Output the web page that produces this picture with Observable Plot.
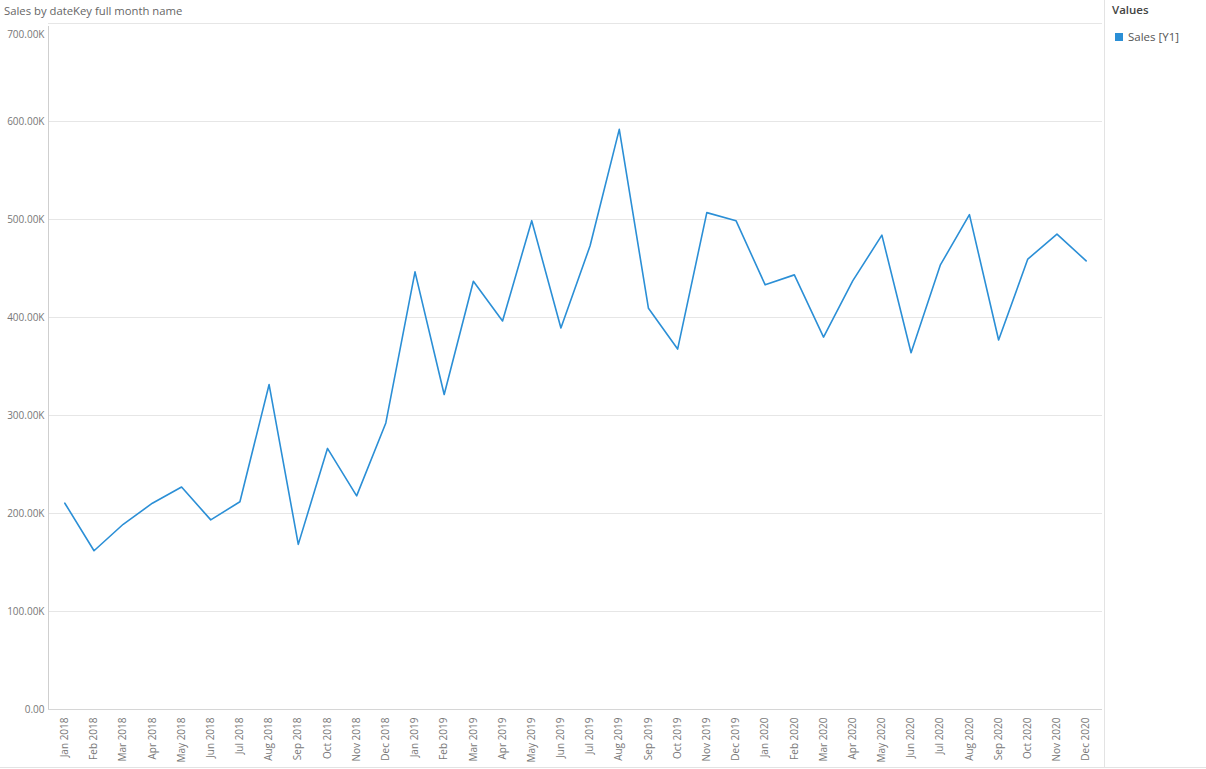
<!DOCTYPE html>
<html>
<head>
<meta charset="utf-8">
<script src="https://cdn.jsdelivr.net/npm/d3@7"></script>
<script src="https://cdn.jsdelivr.net/npm/@observablehq/plot@0.6"></script>
<style>
  html, body { margin: 0; padding: 0; background: #fff; }
  body { width: 1206px; height: 769px; position: relative; overflow: hidden; font-family: "Segoe UI", "Open Sans", "Noto Sans", sans-serif; }
  #title { position: absolute; left: 4px; top: 3px; font-size: 11.3px; color: #666; white-space: nowrap; }
  #chart { position: absolute; left: 0; top: 0; }
  #sep { position: absolute; left: 1104px; top: 0; width: 1px; height: 767px; background: #e3e3e3; }
  #bottom { position: absolute; left: 0; top: 767px; width: 1206px; height: 1px; background: #e3e3e3; }
  #legend { position: absolute; left: 1112px; top: 2px; }
  #legend .head { font-size: 11.5px; font-weight: 600; color: #444; }
  #legend .item { margin-top: 12px; font-size: 11.5px; color: #555; display: flex; align-items: center; margin-left: 3px; }
  #legend .sw { width: 8px; height: 8px; background: #2b8fd6; margin-right: 5px; }
</style>
</head>
<body>
<div id="chart"></div>
<div id="title">Sales by dateKey full month name</div>
<div id="sep"></div>
<div id="bottom"></div>
<div id="legend"><div class="head">Values</div><div class="item"><div class="sw"></div>Sales [Y1]</div></div>
<script>
const months = [
  "Jan 2018","Feb 2018","Mar 2018","Apr 2018","May 2018","Jun 2018","Jul 2018","Aug 2018","Sep 2018","Oct 2018","Nov 2018","Dec 2018",
  "Jan 2019","Feb 2019","Mar 2019","Apr 2019","May 2019","Jun 2019","Jul 2019","Aug 2019","Sep 2019","Oct 2019","Nov 2019","Dec 2019",
  "Jan 2020","Feb 2020","Mar 2020","Apr 2020","May 2020","Jun 2020","Jul 2020","Aug 2020","Sep 2020","Oct 2020","Nov 2020","Dec 2020"
];
const sales = [
  210500, 162000, 189000, 210500, 227000, 193500, 212000, 331600, 168500, 266400, 218000, 292400,
  446600, 321400, 437000, 396400, 498800, 389300, 473200, 592000, 409400, 367800, 507000, 498800,
  433300, 443500, 380000, 437400, 484000, 364000, 453400, 505000, 377000, 459600, 485000, 457800
];
const yTicks = [0, 100000, 200000, 300000, 400000, 500000, 600000, 700000];

const data = months.map((m, i) => ({month: m, sales: sales[i]}));
const fmt = v => v === 0 ? "0.00" : (v / 1000).toFixed(2) + "K";
const font = "'Segoe UI', 'Open Sans', 'Noto Sans', sans-serif";

// left axis line, drawn from the plot's own dimensions
const leftAxisLine = (index, scales, values, dim) => {
  const line = document.createElementNS("http://www.w3.org/2000/svg", "line");
  const x = dim.marginLeft + 0.5;
  line.setAttribute("x1", x);
  line.setAttribute("x2", x);
  line.setAttribute("y1", dim.marginTop + 3);
  line.setAttribute("y2", dim.height - dim.marginBottom);
  line.setAttribute("stroke", "#cfcfcf");
  return line;
};

const chart = Plot.plot({
  width: 1104,
  height: 767,
  marginLeft: 48,
  marginRight: 2,
  marginTop: 23,
  marginBottom: 58,
  style: {fontFamily: font, fontSize: "10px", color: "#777", background: "transparent"},
  x: {type: "point", domain: months, padding: 0.56, round: false, label: null},
  y: {domain: [0, 700000], label: null},
  marks: [
    Plot.gridY(yTicks.slice(1), {stroke: "#e6e6e6", strokeOpacity: 1, strokeWidth: 1}),
    leftAxisLine,
    Plot.ruleY([0], {stroke: "#d6d6d6"}),
    Plot.axisY(yTicks.slice(0, -1), {tickSize: 0, tickPadding: 4, tickFormat: fmt, fill: "#777", fontSize: 10, label: null}),
    Plot.axisY([700000], {tickSize: 0, tickPadding: 4, tickFormat: fmt, fill: "#777", fontSize: 10, dy: 11, label: null}),
    Plot.axisX(months, {tickSize: 0, tickPadding: 8, tickRotate: -90, fill: "#777", fontSize: 10, label: null}),
    Plot.line(data, {x: "month", y: "sales", stroke: "#2b8fd6", strokeWidth: 1.6})
  ]
});
document.getElementById("chart").appendChild(chart);
</script>
</body>
</html>
